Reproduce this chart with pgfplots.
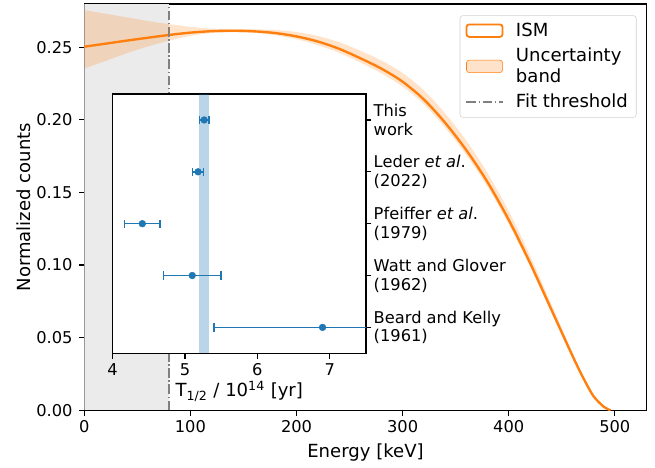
\documentclass[border=0pt]{standalone}
\usepackage{fontspec}
\setmainfont{DejaVu Sans}
\usepackage{pgfplots}
\pgfplotsset{compat=1.18}
\usepackage{pgfplotstable}

\definecolor{ismorange}{HTML}{FF7F0E}
\definecolor{mplblue}{HTML}{1F77B4}
\definecolor{spangray}{HTML}{EBEBEB}

\pgfplotsset{every tick label/.append style={font=\fontsize{11.7}{13.5}\selectfont}}

% ISM spectrum (central curve)
\pgfplotstableread{
E y
0 0.2503
20 0.2524
40 0.2545
60 0.2565
80 0.2584
100 0.2600
120 0.2610
140 0.2613
160 0.2609
180 0.2597
200 0.2574
220 0.2539
240 0.2489
260 0.2424
280 0.2352
300 0.2262
320 0.2140
340 0.1980
360 0.1791
380 0.1571
400 0.1311
420 0.1016
440 0.0696
460 0.0376
470 0.0226
480 0.0096
490 0.0022
496 0
}\ism

% uncertainty band outline: upper edge, then lower edge backwards
\pgfplotstableread{
E y
0 0.2755
20 0.2730
40 0.2705
60 0.2680
80 0.2658
100 0.2640
120 0.2628
140 0.2624
160 0.2623
180 0.2618
200 0.2604
220 0.2577
240 0.2534
260 0.2476
280 0.2408
300 0.2322
320 0.2203
340 0.2045
360 0.1856
380 0.1633
400 0.1371
420 0.1066
440 0.0734
460 0.0399
470 0.0240
480 0.0103
490 0.0024
496 0
490 0.0021
480 0.0092
470 0.0218
460 0.0363
440 0.0676
420 0.0990
400 0.1281
380 0.1539
360 0.1758
340 0.1947
320 0.2107
300 0.2229
280 0.2320
260 0.2395
240 0.2462
220 0.2514
200 0.2555
180 0.2582
160 0.2598
140 0.2603
120 0.2597
100 0.2578
80 0.2545
60 0.2505
40 0.2458
20 0.2405
0 0.2353
}\band

\begin{document}
\fontsize{13}{15}\selectfont
\begin{tikzpicture}
\begin{axis}[
    name=main,
    at={(0pt,0pt)}, anchor=south west,
    scale only axis,
    width=404.9pt, height=292.5pt,
    xmin=0, xmax=530,
    ymin=0, ymax=0.2797,
    xtick={0,100,200,300,400,500},
    ytick={0,0.05,0.10,0.15,0.20,0.25},
    scaled y ticks=false,
    yticklabel style={/pgf/number format/.cd, fixed, fixed zerofill, precision=2},
    xticklabel style={yshift=1pt},
    /pgf/number format/assume math mode=true,
    xtick pos=bottom, ytick pos=left,
    tick align=outside,
    major tick length=3.9pt,
    tick style={black, line width=0.9pt},
    axis line style={line width=0.9pt},
    xlabel={Energy [keV]},
    ylabel={Normalized counts},
    xlabel style={yshift=1pt},
    ylabel style={yshift=-5pt},
    legend cell align=left,
    legend style={
        at={(0.982,0.972)}, anchor=north east,
        draw=black!18, rounded corners=2pt, fill=white,
        cells={align=left},
        inner xsep=4pt, inner ysep=3pt,
        row sep=2.5pt,
        column sep=7pt,
    },
]
% region below the fit threshold
\fill[spangray] (axis cs:0,0) rectangle (axis cs:80,0.2797);

\addplot[draw=none, fill=ismorange, fill opacity=0.22, smooth, forget plot] table[x=E, y=y] {\band};
\addplot[ismorange, line width=1.7pt, smooth, forget plot] table[x=E, y=y] {\ism};

\draw[gray, line width=1.1pt, dash pattern=on 7pt off 1.8pt on 1.1pt off 1.8pt]
    (axis cs:80,0) -- (axis cs:80,0.2797);

\addlegendimage{legend image code/.code={
    \draw[ismorange, line width=1.3pt] (0pt,-4.5pt) rectangle (26pt,4.5pt);}}
\addlegendentry{ISM}
\addlegendimage{legend image code/.code={
    \fill[ismorange, fill opacity=0.22] (0pt,-4.5pt) rectangle (26pt,4.5pt);}}
\addlegendentry{Uncertainty\\band}
\addlegendimage{legend image code/.code={
    \draw[gray, line width=1.1pt, dash pattern=on 7pt off 1.8pt on 1.1pt off 1.8pt] (0pt,0pt) -- (26pt,0pt);}}
\addlegendentry{Fit threshold}
\end{axis}

% inset: half-life comparison
\begin{axis}[
    at={(20.4pt,41.0pt)}, anchor=south west,
    scale only axis,
    width=182.4pt, height=186.7pt,
    xmin=4, xmax=7.5,
    ymin=-0.5, ymax=4.5,
    xtick={4,5,6,7},
    ytick={0,1,2,3,4},
    yticklabels={{Beard and Kelly\\(1961)}, {Watt and Glover\\(1962)},
        {Pfeiffer \textit{et al}.\\(1979)}, {Leder \textit{et al}.\\(2022)}, {This\\work}},
    /pgf/number format/assume math mode=true,
    xtick pos=bottom, ytick pos=right, yticklabel pos=right,
    yticklabel style={align=left, anchor=west, inner xsep=1.5pt},
    xticklabel style={yshift=1pt},
    tick align=outside,
    major tick length=3.9pt,
    tick style={black, line width=0.9pt},
    axis line style={line width=0.9pt},
    axis background/.style={fill=white},
    xlabel={T\textsubscript{1/2} / 10\textsuperscript{14} [yr]},
    xlabel style={yshift=5pt},
]
\fill[mplblue, opacity=0.3] (axis cs:5.20,-0.5) rectangle (axis cs:5.33,4.5);

\addplot[
    mplblue, only marks,
    mark=*, mark size=2.4pt,
    mark options={fill=mplblue},
    error bars/.cd, x dir=both, x explicit,
    error mark=|,
    error bar style={line width=1.1pt, mplblue},
    error mark options={mark size=3pt, line width=1.1pt, mplblue},
] coordinates {
    (5.265,4) +- (0.065,0)
    (5.18,3) +- (0.075,0)
    (4.41,2) +- (0.245,0)
    (5.10,1) +- (0.40,0)
    (6.90,0) +- (1.50,0)
};
\end{axis}

% page margins as in the reference
\path (-60.7pt,-35.1pt) rectangle (410.9pt,295.4pt);
\end{tikzpicture}
\end{document}
